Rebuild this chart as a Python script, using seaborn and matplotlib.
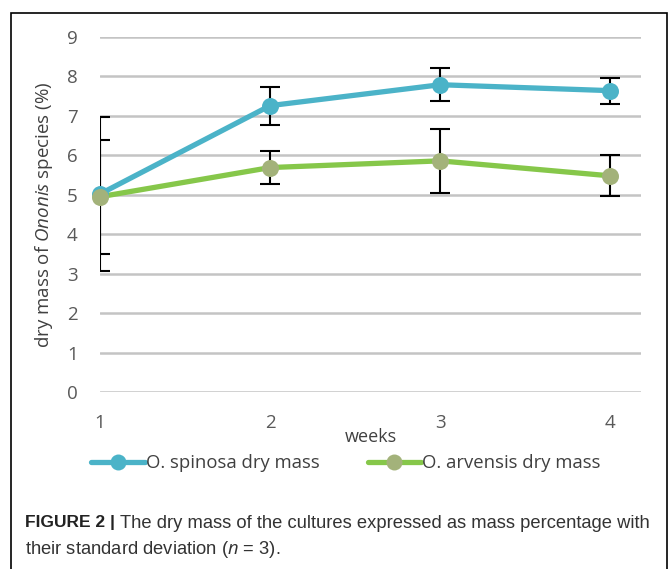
import matplotlib
matplotlib.use("Agg")
import matplotlib.pyplot as plt
import seaborn as sns
import pandas as pd
from matplotlib.patches import Rectangle
from matplotlib.lines import Line2D

weeks = [1, 2, 3, 4]
spinosa_mean = [5.02, 7.26, 7.79, 7.64]
spinosa_sd = [1.95, 0.48, 0.42, 0.33]
arvensis_mean = [4.95, 5.69, 5.86, 5.48]
arvensis_sd = [1.45, 0.42, 0.82, 0.52]
series_names = ["O. spinosa dry mass", "O. arvensis dry mass"]
yticks = [0, 1, 2, 3, 4, 5, 6, 7, 8, 9]

sns.set_theme(style="white")
plt.rcParams['font.family'] = ['Open Sans', 'DejaVu Sans']
plt.rcParams['mathtext.fontset'] = 'custom'
plt.rcParams['mathtext.it'] = 'Open Sans:italic'
plt.rcParams['mathtext.rm'] = 'Open Sans'

blue = "#4BB3C8"
green_line = "#86C74A"
green_marker = "#A3B27A"
grey_txt = "#595959"

df = pd.DataFrame({
    "week": weeks * 2,
    "value": spinosa_mean + arvensis_mean,
    "series": [series_names[0]] * 4 + [series_names[1]] * 4,
})

fig = plt.figure(figsize=(6.7, 5.69), dpi=100)
ax = fig.add_axes([100/670, 1-392/569, 541/670, 355/569])

for m, s in [(spinosa_mean, spinosa_sd), (arvensis_mean, arvensis_sd)]:
    ax.errorbar(weeks, m, yerr=s, fmt="none", ecolor="black",
                elinewidth=1.5, capsize=7, capthick=1.5, zorder=2)
n_before = len(ax.lines)

sns.lineplot(data=df, x="week", y="value", hue="series",
             palette={series_names[0]: blue, series_names[1]: green_line},
             linewidth=3.8, ax=ax, legend=False, zorder=3)
for line in ax.lines[n_before:]:
    line.set_clip_on(False)
ax.scatter(weeks, spinosa_mean, s=150, color=blue, zorder=4, clip_on=False, linewidths=0)
ax.scatter(weeks, arvensis_mean, s=150, color=green_marker, zorder=5, clip_on=False, linewidths=0)

ax.set_xlim(1, 4.18)
ax.set_ylim(0, 9)
ax.set_yticks(yticks)
ax.set_xticks(weeks)
ax.yaxis.grid(True, color="#C4C4C4", linewidth=1.8)
ax.xaxis.grid(False)
for sp in ax.spines.values():
    sp.set_visible(False)
ax.tick_params(axis="both", length=0, labelsize=13.5, colors=grey_txt)
ax.tick_params(axis="y", pad=16)
ax.tick_params(axis="x", pad=16)
ax.set_xlabel("weeks", fontsize=13, color="#404040", labelpad=-3)
ax.set_ylabel(r"dry mass of $\it{Ononis}$ species (%)", fontsize=13.5, color="#404040", labelpad=9)

handles = [
    Line2D([0], [0], color=blue, lw=3.8, marker="o", markersize=11.5,
           markerfacecolor=blue, markeredgewidth=0),
    Line2D([0], [0], color=green_line, lw=3.8, marker="o", markersize=11.5,
           markerfacecolor=green_marker, markeredgewidth=0),
]
fig.legend(handles, series_names, loc="center", bbox_to_anchor=(346/670, 1-463/569),
           ncol=2, frameon=False, fontsize=13.3, handlelength=2.9, handletextpad=0.05,
           columnspacing=2.6, labelcolor="#404040")

fig.patches.append(Rectangle((11/670, -0.01), 656/670, 1-13/569+0.01,
                             transform=fig.transFigure, fill=False,
                             edgecolor="black", linewidth=1.2))

cap_fam = ['Liberation Sans', 'DejaVu Sans']
renderer = fig.canvas.get_renderer()
fs = 12.5
t1 = fig.text(25/670, 1-523/569, "FIGURE 2 |", fontsize=fs, fontweight="bold",
              family=cap_fam, color="#222222", va="center")
wb = t1.get_window_extent(renderer).width
start = 25 + wb + 5
line1 = "The dry mass of the cultures expressed as mass percentage with"
t2 = fig.text(start/670, 1-523/569, line1, fontsize=12, family=cap_fam,
              color="#333333", va="center")
w = t2.get_window_extent(renderer).width
t2.set_fontsize(12 * (650 - start) / w)
fig.text(25/670, 1-550/569, r"their standard deviation ($\it{n}$ = 3).",
         fontsize=t2.get_fontsize(), family=cap_fam, color="#333333", va="center")

fig.savefig("out.png", dpi=100)
